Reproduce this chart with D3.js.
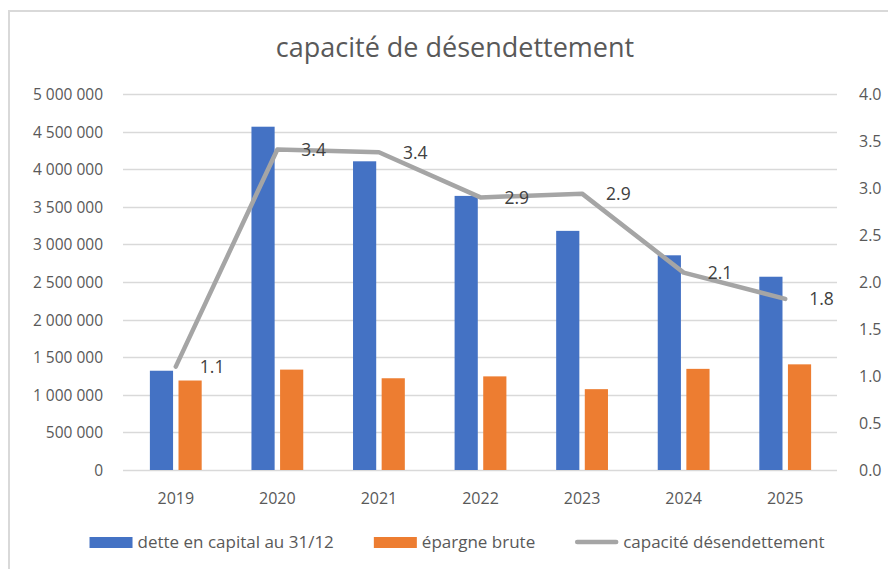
<!DOCTYPE html>
<html>
<head>
<meta charset="utf-8">
<script src="https://cdn.jsdelivr.net/npm/d3@7"></script>
<style>
  html, body { margin: 0; padding: 0; background: #fff; }
  svg { display: block; font-family: "Open Sans", sans-serif; }
</style>
</head>
<body>
<svg id="chart" width="888" height="569"></svg>
<script>
// ---- data ----
const years = ["2019", "2020", "2021", "2022", "2023", "2024", "2025"];
const dette = [1320000, 4565000, 4105000, 3645000, 3180000, 2855000, 2570000];
const epargne = [1190000, 1335000, 1220000, 1245000, 1075000, 1345000, 1405000];
const capacite = [1.10, 3.41, 3.38, 2.90, 2.94, 2.10, 1.82];
const leftTicks = [0, 500000, 1000000, 1500000, 2000000, 2500000, 3000000, 3500000, 4000000, 4500000, 5000000];
const rightTicks = [0, 0.5, 1, 1.5, 2, 2.5, 3, 3.5, 4];
const seriesNames = ["dette en capital au 31/12", "épargne brute", "capacité désendettement"];
const titleText = "capacité de désendettement";

const colors = { dette: "#4472c4", epargne: "#ed7d31", line: "#a5a5a5" };

const svg = d3.select("#chart");

// frame
svg.append("line").attr("x1", 9).attr("x2", 888).attr("y1", 11).attr("y2", 11)
  .attr("stroke", "#d9d9d9").attr("stroke-width", 2);
svg.append("line").attr("x1", 9).attr("x2", 9).attr("y1", 10).attr("y2", 569)
  .attr("stroke", "#d9d9d9").attr("stroke-width", 2);

const plot = { left: 125, right: 836, top: 94, bottom: 470 };

const x0 = d3.scaleBand().domain(years).range([plot.left, plot.right])
  .paddingInner(0.49).paddingOuter(0.245);
const x1 = d3.scaleBand().domain([0, 1]).range([0, x0.bandwidth()]).paddingInner(0.19);
const yL = d3.scaleLinear().domain([0, 5000000]).range([plot.bottom, plot.top]);
const yR = d3.scaleLinear().domain([0, 4]).range([plot.bottom, plot.top]);
const center = d => x0(d) + x0.bandwidth() / 2;

// title
svg.append("text").attr("x", 455).attr("y", 57).attr("text-anchor", "middle")
  .attr("font-size", 27).attr("fill", "#595959").text(titleText);

// gridlines
const fmtLeft = v => d3.format(",")(v).replace(/,/g, "\u00a0");
svg.append("g").selectAll("line").data(leftTicks).join("line")
  .attr("x1", plot.left - 2).attr("x2", plot.right + 1)
  .attr("y1", d => Math.round(yL(d)) + 0.5).attr("y2", d => Math.round(yL(d)) + 0.5)
  .attr("stroke", "#d9d9d9").attr("stroke-width", 1.6);

// left axis labels
const axL = svg.append("g").attr("transform", `translate(${plot.left - 22},0)`)
  .call(d3.axisLeft(yL).tickValues(leftTicks).tickFormat(fmtLeft).tickSize(0).tickPadding(0));
axL.select(".domain").remove();
axL.selectAll("text").attr("font-size", 15.5).attr("fill", "#595959")
  .attr("font-family", "Open Sans, sans-serif").attr("dy", "0.36em");

// right axis labels
const axR = svg.append("g").attr("transform", `translate(${plot.right + 23},0)`)
  .call(d3.axisRight(yR).tickValues(rightTicks).tickFormat(d3.format(".1f")).tickSize(0).tickPadding(0));
axR.select(".domain").remove();
axR.selectAll("text").attr("font-size", 16).attr("fill", "#595959")
  .attr("font-family", "Open Sans, sans-serif").attr("dy", "0.36em");

// x axis labels
const axX = svg.append("g").attr("transform", `translate(0,${plot.bottom})`)
  .call(d3.axisBottom(x0).tickSize(0).tickPadding(23));
axX.select(".domain").remove();
axX.selectAll("text").attr("font-size", 16).attr("fill", "#595959")
  .attr("font-family", "Open Sans, sans-serif");

// bars
const groups = svg.append("g").selectAll("g").data(years).join("g")
  .attr("transform", d => `translate(${x0(d)},0)`);
groups.append("rect")
  .attr("x", x1(0)).attr("width", x1.bandwidth())
  .attr("y", (d, i) => yL(dette[i])).attr("height", (d, i) => yL(0) - yL(dette[i]))
  .attr("fill", colors.dette);
groups.append("rect")
  .attr("x", x1(1)).attr("width", x1.bandwidth())
  .attr("y", (d, i) => yL(epargne[i])).attr("height", (d, i) => yL(0) - yL(epargne[i]))
  .attr("fill", colors.epargne);

// line
const lineGen = d3.line().x((d, i) => center(years[i])).y(d => yR(d));
svg.append("path").datum(capacite).attr("d", lineGen)
  .attr("fill", "none").attr("stroke", colors.line).attr("stroke-width", 4.5)
  .attr("stroke-linejoin", "round").attr("stroke-linecap", "round");

// data labels
svg.append("g").selectAll("text").data(capacite).join("text")
  .attr("x", (d, i) => center(years[i]) + 24)
  .attr("y", d => yR(d)).attr("dy", "0.36em")
  .attr("font-size", 17.5).attr("fill", "#404040")
  .text(d => d.toFixed(1));

// legend
const legend = svg.append("g");
const items = legend.selectAll("g").data(seriesNames).join("g");
items.append("text").attr("font-size", 17).attr("fill", "#595959")
  .attr("y", 542).attr("dy", "0.36em").text(d => d);
const swW = 43, swGap = 5, itemGap = 40;
const widths = [];
items.each(function () { widths.push(this.querySelector("text").getComputedTextLength()); });
const total = d3.sum(widths) + widths.length * (swW + swGap) + (widths.length - 1) * itemGap;
let cx = 457 - total / 2;
items.each(function (d, i) {
  const g = d3.select(this);
  if (i < 2) {
    g.append("rect").attr("x", cx).attr("y", 537).attr("width", swW).attr("height", 11)
      .attr("fill", i === 0 ? colors.dette : colors.epargne);
  } else {
    g.append("line").attr("x1", cx + 2).attr("x2", cx + swW - 2).attr("y1", 542).attr("y2", 542)
      .attr("stroke", colors.line).attr("stroke-width", 4.5).attr("stroke-linecap", "round");
  }
  g.select("text").attr("x", cx + swW + swGap);
  cx += swW + swGap + widths[i] + itemGap;
});
</script>
</body>
</html>
